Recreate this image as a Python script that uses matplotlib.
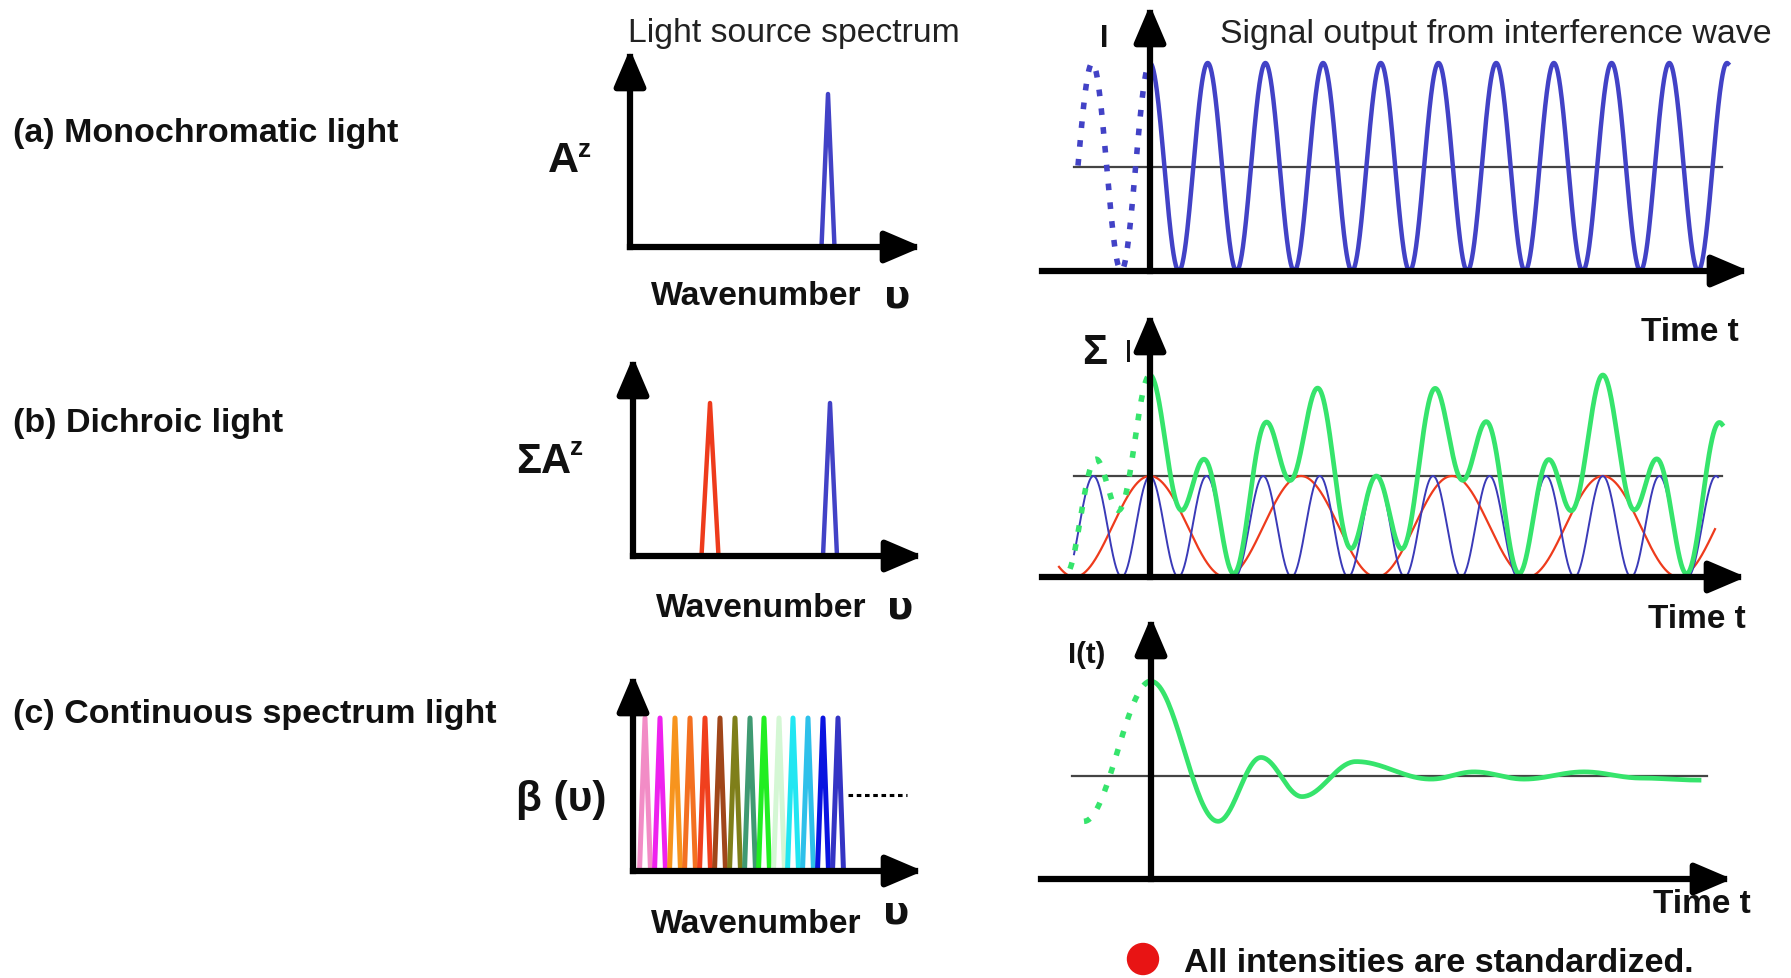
import numpy as np
import matplotlib.pyplot as plt
from matplotlib.patches import Ellipse

plt.rcParams['font.family'] = ['Liberation Sans', 'DejaVu Sans']

W, H = 1791, 979

# ---- data (wavenumber / time in arbitrary units) ----
# (a) monochromatic light
mono_nu = [198]
mono_halfwidth = [6.5]
mono_height = [1.0]
mono_period = 57.7
mono_t = [0, 578]
mono_t_dotted = [-72, 0]
mono_mean_span = [-76, 572]

# (b) dichroic light  (red, blue)
dich_nu = [77, 197]
dich_halfwidth = [8.5, 7.0]
dich_height = [1.0, 1.0]
dich_period = [151, 56.6]
dich_t_red = [-91, 565]
dich_t_blue = [-76, 568]
dich_t_sum = [0, 572]
dich_t_dotted = [-80, 0]
dich_mean_span = [-76, 572]

# (c) continuous spectrum light
cont_nu = [12, 27, 42, 57, 72, 87, 102, 117, 131, 146, 160, 175, 190, 205]
cont_halfwidth = 5.5
cont_height = 1.0
cont_more_nu = [215, 274]
cont_more_level = 0.5
cont_ext_t = [0, 67, 110, 151, 205, 280, 323, 373, 433, 490, 548]
cont_ext_I = [1.92, 0.56, 1.18, 0.80, 1.14, 0.97, 1.04, 0.97, 1.04, 0.98, 0.96]
cont_t_dotted = [-67, 0]
cont_mean_span = [-79, 556]

cont_colors = ['#f28cc6', '#ee22ee', '#f7941e', '#f37021', '#f0401e', '#a0461a',
               '#7f7f1a', '#3f9a72', '#22ee22', '#d4f7d4', '#22e6f2', '#2ec0ea',
               '#0a14e0', '#3434c4']

BLUE = '#4242c6'
RED = '#ee3b1c'
GREEN = '#36e46c'

fig = plt.figure(figsize=(W / 100, H / 100), dpi=100)


def px_axes(x0, x1, ytop, ybot, ox, oy, sy):
    ax = fig.add_axes([x0 / W, 1 - ybot / H, (x1 - x0) / W, (ybot - ytop) / H])
    ax.set_xlim(x0 - ox, x1 - ox)
    ax.set_ylim((oy - ybot) / sy, (oy - ytop) / sy)
    ax.axis('off')
    ax.set_facecolor('none')
    return ax


def arrow(ax, x0, y0, x1, y1):
    ax.annotate('', xy=(x1, y1), xytext=(x0, y0), annotation_clip=False,
                arrowprops=dict(arrowstyle='-|>,head_length=0.75,head_width=0.32',
                                lw=4.5, color='black', shrinkA=0, shrinkB=0,
                                mutation_scale=30, capstyle='projecting'))


def ftext(x, y, s, **kw):
    fig.text(x / W, 1 - y / H, s, **kw)


def eased(tk, vk, n=40):
    ts, vs = [], []
    for i in range(len(tk) - 1):
        s = np.linspace(0, 1, n)
        ts.append(tk[i] + (tk[i + 1] - tk[i]) * s)
        vs.append(vk[i] + (vk[i + 1] - vk[i]) * (1 - np.cos(np.pi * s)) / 2)
    return np.concatenate(ts), np.concatenate(vs)


def peaks(ax, nu, hw, h, colors, lw=3.2):
    for c, w, hh, col in zip(nu, hw, h, colors):
        ax.plot([c - w, c, c + w], [0, hh, 0], color=col, lw=lw,
                solid_joinstyle='round', solid_capstyle='butt')


# ---------------- spectra ----------------
sa = px_axes(590, 950, 20, 270, 630, 248, 153)
peaks(sa, mono_nu, mono_halfwidth, mono_height, [BLUE])
arrow(sa, 0, 0, 0, (248 - 50) / 153)
arrow(sa, 0, 0, 292, 0)

sb = px_axes(590, 950, 330, 580, 633, 557, 153)
peaks(sb, dich_nu, dich_halfwidth, dich_height, [RED, BLUE])
arrow(sb, 0, 0, 0, (557 - 358) / 153)
arrow(sb, 0, 0, 290, 0)

sc = px_axes(590, 950, 650, 895, 633, 872, 153)
peaks(sc, cont_nu, [cont_halfwidth] * len(cont_nu), [cont_height] * len(cont_nu),
      cont_colors, lw=3.6)
sc.plot(cont_more_nu, [cont_more_level] * 2, color='black', lw=2.2,
        linestyle=(0, (1.5, 1.2)))
arrow(sc, 0, 0, 0, (872 - 675) / 153)
arrow(sc, 0, 0, 290, 0)

# ---------------- signals ----------------
# (a)
ta = px_axes(1030, 1775, 0, 290, 1150, 272, 104)
ta.plot(mono_mean_span, [1, 1], color='#444444', lw=1.6)
t = np.linspace(mono_t[0], mono_t[1], 1500)
ta.plot(t, 1 + np.cos(2 * np.pi * t / mono_period), color=BLUE, lw=3.2)
t = np.linspace(mono_t_dotted[0], mono_t_dotted[1], 300)
ta.plot(t, 1 + np.cos(2 * np.pi * t / mono_period), color=BLUE, lw=4,
        linestyle=(0, (1.2, 2.2)))
arrow(ta, 0, 0, 0, (272 - 6) / 104)
arrow(ta, -108, 0, 1749 - 1150, 0)

# (b)
tb = px_axes(1030, 1775, 300, 595, 1150, 578, 101)
tb.plot(dich_mean_span, [1, 1], color='#444444', lw=1.6)
t = np.linspace(dich_t_red[0], dich_t_red[1], 1500)
tb.plot(t, (1 + np.cos(2 * np.pi * t / dich_period[0])) / 2, color=RED, lw=1.6)
t = np.linspace(dich_t_blue[0], dich_t_blue[1], 1500)
tb.plot(t, (1 + np.cos(2 * np.pi * t / dich_period[1])) / 2, color='#3a3ab8', lw=1.4)
t = np.linspace(dich_t_sum[0], dich_t_sum[1], 1500)
s = (1 + np.cos(2 * np.pi * t / dich_period[0])) / 2 + (1 + np.cos(2 * np.pi * t / dich_period[1])) / 2
tb.plot(t, s, color=GREEN, lw=3.4)
t = np.linspace(dich_t_dotted[0], dich_t_dotted[1], 300)
s = (1 + np.cos(2 * np.pi * t / dich_period[0])) / 2 + (1 + np.cos(2 * np.pi * t / dich_period[1])) / 2
tb.plot(t, s, color=GREEN, lw=4, linestyle=(0, (1.2, 2.2)))
arrow(tb, 0, 0, 0, (578 - 314) / 101)
arrow(tb, -108, 0, 1746 - 1150, 0)

# (c)
tc = px_axes(1030, 1775, 600, 900, 1151, 880, 103)
tc.plot(cont_mean_span, [1, 1], color='#444444', lw=1.6)
t, v = eased(cont_ext_t, cont_ext_I)
tc.plot(t, v, color=GREEN, lw=3.4)
t, v = eased([-cont_ext_t[1], 0], [cont_ext_I[1], cont_ext_I[0]])
tc.plot(t, v, color=GREEN, lw=4, linestyle=(0, (1.2, 2.2)))
arrow(tc, 0, 0, 0, (880 - 618) / 103)
arrow(tc, -110, 0, 1732 - 1151, 0)

# ---------------- texts ----------------
bold = dict(fontweight='bold', color='#111111', va='baseline')
ftext(13, 142, '(a) Monochromatic light', fontsize=24.5, ha='left', **bold)
ftext(13, 432, '(b) Dichroic light', fontsize=24.5, ha='left', **bold)
ftext(13, 723, '(c) Continuous spectrum light', fontsize=24.5, ha='left', **bold)

ftext(628, 42, 'Light source spectrum', fontsize=24.3, ha='left', va='baseline', color='#222222')
ftext(1220, 43, 'Signal output from interference wave', fontsize=24.4, ha='left',
      va='baseline', color='#222222')

ftext(548, 172, 'A', fontsize=31, ha='left', **bold)
ftext(578, 157, 'z', fontsize=19, ha='left', **bold)
ftext(516, 473, 'ΣA', fontsize=30, ha='left', **bold)
ftext(570, 455, 'z', fontsize=19, ha='left', **bold)
ftext(516, 811, 'β (υ)', fontsize=30.5, ha='left', **bold)

for xw, yw, xu, yu in [(651, 305, 897, 308), (656, 617, 900, 619), (651, 933, 896, 923)]:
    ftext(xw, yw, 'Wavenumber', fontsize=24.3, ha='left', **bold)
    ftext(xu, yu, 'υ', fontsize=28, ha='center', family=['DejaVu Sans'], **bold)

ftext(1100, 47, 'I', fontsize=22, ha='left', **bold)
ftext(1082, 364, 'Σ', fontsize=30, ha='left', **bold)
ftext(1124, 362, 'I', fontsize=23, ha='left', va='baseline', color='#111111')
ftext(1068, 663, 'I(t)', fontsize=21, ha='left', **bold)

ftext(1641, 341, 'Time t', fontsize=24, ha='left', **bold)
ftext(1648, 628, 'Time t', fontsize=24, ha='left', **bold)
ftext(1653, 913, 'Time t', fontsize=24, ha='left', **bold)

fig.add_artist(Ellipse((1143 / W, 1 - 960 / H), 31 / W, 31 / H,
                       transform=fig.transFigure, color='#e81414'))
ftext(1184, 972, 'All intensities are standardized.', fontsize=24.5, ha='left', **bold)

fig.savefig('out.png', dpi=100, facecolor='white')
